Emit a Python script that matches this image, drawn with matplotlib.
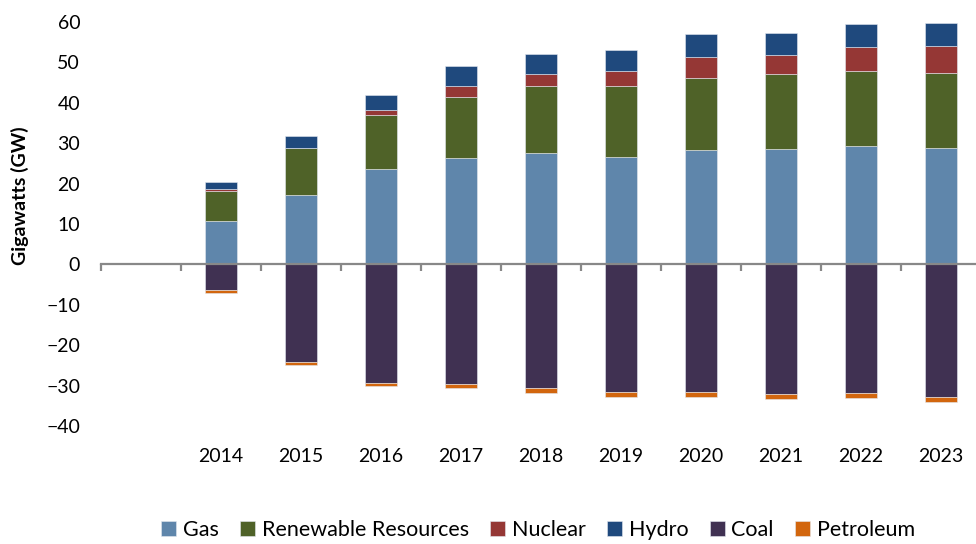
import numpy as np
import matplotlib.pyplot as plt

plt.rcParams['font.family'] = ['Lato', 'DejaVu Sans']

years = ['', '2014', '2015', '2016', '2017', '2018', '2019', '2020', '2021', '2022', '2023']

# positive additions (GW); first slot is an empty category
gas = [0, 10.8, 17.1, 23.7, 26.4, 27.6, 26.7, 28.4, 28.5, 29.4, 28.7]
renewable = [0, 7.4, 11.8, 13.2, 15.1, 16.5, 17.4, 17.8, 18.6, 18.5, 18.6]
nuclear = [0, 0.4, 0.0, 1.4, 2.7, 3.1, 3.7, 5.2, 4.7, 6.0, 6.8]
hydro = [0, 1.8, 2.8, 3.7, 4.8, 4.8, 5.3, 5.6, 5.6, 5.5, 5.6]
# retirements (GW)
coal = [0, -6.4, -24.2, -29.4, -29.7, -30.6, -31.6, -31.6, -32.1, -31.8, -32.8]
petroleum = [0, -0.6, -0.6, -0.6, -1.0, -1.2, -1.1, -1.1, -1.1, -1.3, -1.2]

colors = {
    'Gas': '#5F86AB',
    'Renewable Resources': '#4F6228',
    'Nuclear': '#953735',
    'Hydro': '#1F497D',
    'Coal': '#403152',
    'Petroleum': '#D2660E',
}

fig = plt.figure(figsize=(9.76, 5.44), dpi=100)
ax = fig.add_axes([101 / 976, (544 - 426) / 544, 880 / 976, 404 / 544])

x = np.arange(len(years))
w = 0.4
ec = '#E4E8F0'

pos = [('Gas', gas), ('Renewable Resources', renewable), ('Nuclear', nuclear), ('Hydro', hydro)]
bottom = np.zeros(len(years))
handles = {}
for name, vals in pos:
    vals = np.array(vals)
    b = ax.bar(x, vals, w, bottom=bottom, color=colors[name], edgecolor=ec, linewidth=0.4, label=name)
    handles[name] = b
    bottom += vals

neg = [('Coal', coal), ('Petroleum', petroleum)]
bottom = np.zeros(len(years))
for name, vals in neg:
    vals = np.array(vals)
    b = ax.bar(x, vals, w, bottom=bottom, color=colors[name], edgecolor=ec, linewidth=0.4, label=name)
    handles[name] = b
    bottom += vals

ax.set_xlim(-0.5, 10.5)
ax.set_ylim(-40, 60)
ax.set_yticks(np.arange(-40, 61, 10))
ax.tick_params(axis='y', length=0, pad=15, labelsize=14)

for s in ['top', 'right', 'left']:
    ax.spines[s].set_visible(False)
ax.spines['bottom'].set_position(('data', 0))
ax.spines['bottom'].set_color('#888888')
ax.spines['bottom'].set_linewidth(1.6)
ax.spines['bottom'].set_zorder(5)
ax.set_xticks(x - 0.5)
ax.set_xticklabels([])
ax.tick_params(axis='x', length=5, width=1.6, color='#888888', direction='out')

sec = ax.secondary_xaxis('bottom')
sec.set_xticks(x)
sec.set_xticklabels(years)
sec.tick_params(length=0, pad=16, labelsize=14)
sec.spines['bottom'].set_visible(False)

ax.set_ylabel('Gigawatts (GW)', fontsize=14, fontweight='bold')
ax.yaxis.set_label_coords(-0.082, 0.57)

order = ['Gas', 'Renewable Resources', 'Nuclear', 'Hydro', 'Coal', 'Petroleum']
fig.legend([handles[n] for n in order], order, loc='center', ncol=6,
           bbox_to_anchor=(538 / 976, 1 - 530 / 544), frameon=False, fontsize=15.5,
           handlelength=0.7, handleheight=0.7, handletextpad=0.3, columnspacing=1.0)

fig.savefig('out.png', dpi=100)
